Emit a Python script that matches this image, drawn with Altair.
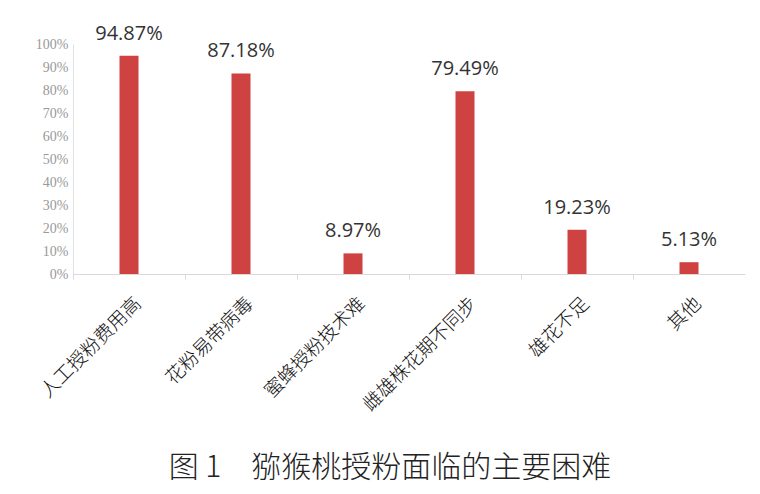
import altair as alt
import pandas as pd

categories = ["人工授粉费用高", "花粉易带病毒", "蜜蜂授粉技术难", "雌雄株花期不同步", "雄花不足", "其他"]
values = [0.9487, 0.8718, 0.0897, 0.7949, 0.1923, 0.0513]
y_ticks = [0, 0.1, 0.2, 0.3, 0.4, 0.5, 0.6, 0.7, 0.8, 0.9, 1.0]
caption = "图 1\u3000猕猴桃授粉面临的主要困难"

df = pd.DataFrame({"category": categories, "value": values})

x_scale = alt.Scale(domain=categories, paddingInner=0, paddingOuter=0)
y_scale = alt.Scale(domain=[0, 1])

x_enc = alt.X("category:N", sort=categories, scale=x_scale, title=None,
              axis=alt.Axis(orient="bottom", labelAngle=-45, labelAlign="right", labelBaseline="middle",
                            labelFont="Noto Sans CJK SC", labelFontSize=19, labelFontWeight=300,
                            labelColor="#111",
                            labelPadding=21, labelOffset=9, ticks=True, tickSize=5,
                            tickColor="#d9d9d9", bandPosition=0, labelOverlap=False,
                            domainColor="#d9d9d9", domainWidth=1, grid=False))

y_enc = alt.Y("value:Q", scale=y_scale, title=None,
              axis=alt.Axis(orient="left", values=y_ticks, tickCount=11, format=".0%",
                            labelFont="Liberation Serif",
                            labelFontSize=14, labelColor="#999", labelPadding=5,
                            labelOverlap=False, labelFlush=False,
                            ticks=False, domainColor="#e0e0e0", grid=False))

bars = alt.Chart(df).mark_bar(color="#CF4242", size=19).encode(x=x_enc, y=y_enc)

labels = alt.Chart(df).mark_text(baseline="bottom", dy=-12, font="Open Sans",
                                 fontSize=20, color="#333").encode(
    x=x_enc,
    y=y_enc,
    text=alt.Text("value:Q", format=".2%"),
)

chart = alt.layer(bars, labels).properties(
    width=672, height=230,
    autosize=alt.AutoSizeParams(type="none"),
    padding={"left": 65, "top": 36, "right": 7, "bottom": 212},
    background="white",
    title=alt.TitleParams(caption, orient="bottom", anchor="middle", dx=-19, offset=38,
                          font="Noto Sans CJK SC", fontSize=30, fontWeight=300,
                          color="#222"),
).configure_view(stroke=None)

chart.save("out.html", embed_options={"renderer": "svg", "actions": False})
